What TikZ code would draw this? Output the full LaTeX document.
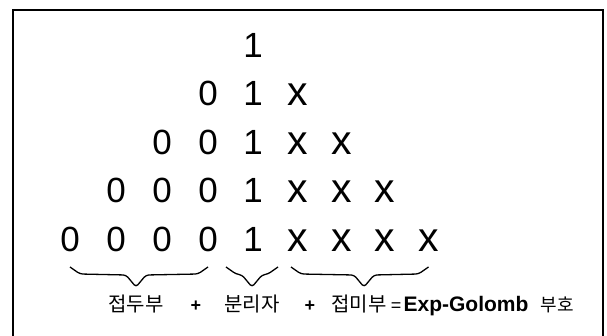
\documentclass[tikz,border=0pt]{standalone}
\usepackage{fontspec}
\setmainfont{Liberation Sans}
\newfontfamily\korfont{Noto Sans CJK KR}
\usepackage{tikz}
\usetikzlibrary{calc}

\tikzset{
  bit/.style={font=\fontsize{35}{35}\selectfont, inner sep=0pt, anchor=base},
  xbit/.style={font=\fontsize{41}{41}\selectfont, inner sep=0pt, anchor=base},
  kor/.style={font=\korfont\fontsize{20}{20}\selectfont, inner sep=0pt, anchor=base},
  kor small/.style={font=\korfont\fontsize{18}{18}\selectfont, inner sep=0pt, anchor=base},
  op/.style={font=\bfseries\fontsize{18}{18}\selectfont, inner sep=0pt, anchor=base},
  brace line/.style={line width=1.3pt, rounded corners=3pt},
}
% V-shaped brace: left end, tip, right end
\newcommand{\vbrace}[3]{%
  \draw[brace line] (#1) -- ++(10,7) -- ($(#2)+(-10,-12)$) -- (#2)
    -- ($(#2)+(10,-12)$) -- ($(#3)+(-10,7)$) -- (#3);}

\begin{document}
\begin{tikzpicture}[x=1pt,y=-1pt]
  \useasboundingbox (0,0) rectangle (607,336);
  % Marco
  \draw[line width=2.6pt] (13,336) -- (13,10) -- (603,10) -- (603,336);

  % Filas de bits
  \foreach \r [evaluate=\r as \yb using 57.5+(\r-1)*48.5,
               evaluate=\r as \n using int(\r-1)] in {1,...,5} {
    \node[bit] (one-\r) at (253,\yb) {1};
    \ifnum\n>0
      \foreach \c in {1,...,\n} {
        \node[bit] (z-\r-\c) at ({208-(\c-1)*46},\yb) {0};
        \node[xbit] (x-\r-\c) at ({298+(\c-1)*43.5},\yb) {x};
      }
    \fi
  }

  % Labels
  \node[kor] (prefix) at (136,312) {접두부};
  \node[op] (plus1) at (196,312) {+};
  \node[kor] (sep) at (252,312) {분리자};
  \node[op] (plus2) at (310,312) {+};
  \node[kor] (suffix) at (359,312) {접미부};
  \node[op, font=\fontsize{18}{18}\selectfont] (eq) at (396,312) {=};
  \node[op, font=\bfseries\fontsize{21}{21}\selectfont] (expg) at (466,312) {Exp-Golomb};
  \node[kor small] (code) at (557,312) {부호};

  % Llaves
  \coordinate (pfxL) at ([yshift=-15.5pt]z-5-4.base);
  \coordinate (pfxR) at ([yshift=-15.5pt]z-5-1.base);
  \coordinate (pfxT) at ([yshift=25pt]prefix.base);
  \coordinate (sepL) at ([xshift=-27pt,yshift=-15.5pt]one-5.base);
  \coordinate (sepR) at ([xshift=25pt,yshift=-15.5pt]one-5.base);
  \coordinate (sepT) at ([yshift=25pt]sep.base);
  \coordinate (sfxL) at ([xshift=-7pt,yshift=-15.5pt]x-5-1.base);
  \coordinate (sfxR) at ([yshift=-15.5pt]x-5-4.base);
  \coordinate (sfxT) at ([xshift=5pt,yshift=25pt]suffix.base);
  \vbrace{pfxL}{pfxT}{pfxR}
  \vbrace{sepL}{sepT}{sepR}
  \vbrace{sfxL}{sfxT}{sfxR}
\end{tikzpicture}
\end{document}
